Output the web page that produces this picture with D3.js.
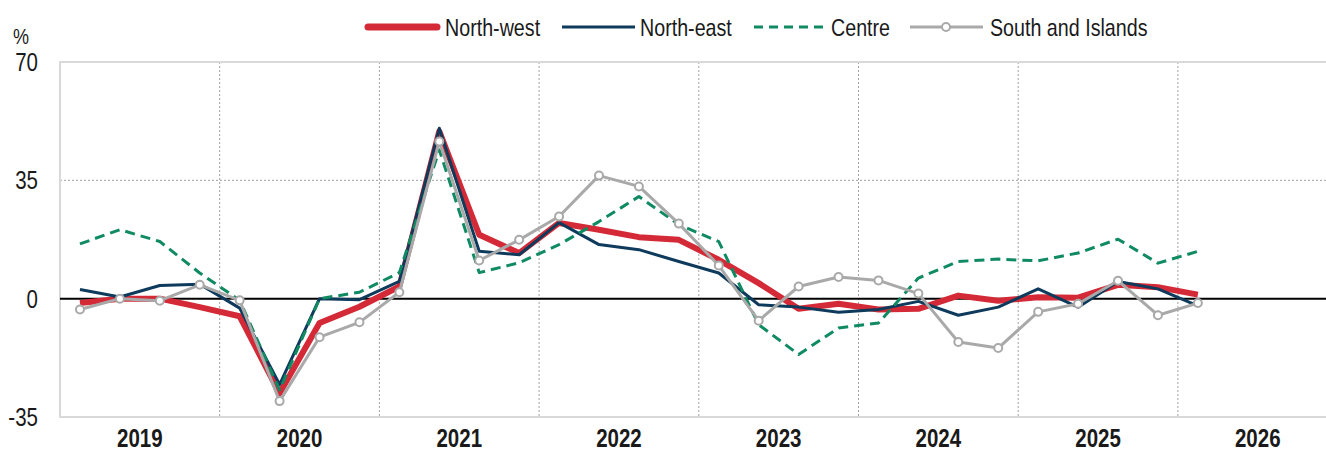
<!DOCTYPE html>
<html>
<head>
<meta charset="utf-8">
<script src="https://cdn.jsdelivr.net/npm/d3@7"></script>
<style>
	body { margin: 0; background: #fff; }
	svg text { font-family: "Liberation Sans Narrow", "Arial Narrow", "Liberation Sans", Arial, sans-serif; fill: #1a1a1a; }
</style>
</head>
<body>
<svg width="1326" height="452"></svg>
<script>
// quarters 2019Q1 .. 2026Q1
const quarters = [
	"2019Q1", "2019Q2", "2019Q3", "2019Q4",
	"2020Q1", "2020Q2", "2020Q3", "2020Q4",
	"2021Q1", "2021Q2", "2021Q3", "2021Q4",
	"2022Q1", "2022Q2", "2022Q3", "2022Q4",
	"2023Q1", "2023Q2", "2023Q3", "2023Q4",
	"2024Q1", "2024Q2", "2024Q3", "2024Q4",
	"2025Q1", "2025Q2", "2025Q3", "2025Q4",
	"2026Q1"
];
const years = [2019, 2020, 2021, 2022, 2023, 2024, 2025, 2026];
const yTicks = [-35, 0, 35, 70];

const northWest = [-1.3, 0, 0, -2.5, -5.2, -28, -7.2, -2.4, 3.6, 49.5, 18.9, 13.5, 22.4, 20.4, 18.2, 17.4,
	11.5, 4.6, -3, -1.5, -3.2, -3, 0.9, -0.6, 0.4, 0.3, 4.1, 3.4, 1.2];
const northEast = [2.7, 0.5, 3.9, 4.3, -2.8, -25.4, 0, -0.3, 5.1, 50.4, 14, 13, 22.5, 16, 14.5, 11,
	7.6, -1.8, -2.5, -4, -3.2, -0.8, -4.9, -2.5, 2.9, -2.5, 5.1, 2.9, -2.1];
const centre = [16.2, 20.4, 16.9, 7.6, -0.5, -27, 0, 1.9, 7.7, 44, 7.7, 10.6, 16, 22.8, 30.2, 21.9,
	16.9, -7.7, -16.5, -8.7, -7.2, 6.1, 11, 11.7, 11.2, 13.5, 17.6, 10.5, 14];
const southIslands = [-3.2, 0, -0.6, 4.1, -0.5, -30.3, -11.4, -7, 1.9, 46.5, 11.3, 17.4, 24.3, 36.4, 33.2, 22.2,
	9.8, -6.5, 3.6, 6.4, 5.4, 1.5, -12.8, -14.6, -3.9, -1.5, 5.3, -4.9, -1.3];

const seriesNames = ["North-west", "North-east", "Centre", "South and Islands"];

const svg = d3.select("svg");
const plotLeft = 60, plotTop = 62, plotBottom = 417;
const yearW = 159.7;
// no narrow font installed, so squeeze the regular one
const narrow = 0.82;

const x = d3.scaleLinear().domain([2019, 2027]).range([plotLeft, plotLeft + 8 * yearW]);
const y = d3.scaleLinear().domain([-35, 70]).range([plotBottom, plotTop]);

const qx = (q) => {
	let yr = +q.slice(0, 4), n = +q.slice(5);
	return x(yr + (n - 0.5) / 4);
};

const place = (px, py) => "translate(" + px + "," + py + ") scale(" + narrow + ",1)";

// grid
const grid = svg.append("g");
grid.selectAll(".vg")
	.data(years.slice(1).concat([2027]))
	.join("line")
	.attr("x1", (d) => x(d))
	.attr("x2", (d) => x(d))
	.attr("y1", plotTop)
	.attr("y2", plotBottom)
	.attr("stroke", "#a0a0a0")
	.attr("stroke-width", 1)
	.attr("stroke-dasharray", "2,2");
grid.append("line")
	.attr("x1", plotLeft).attr("x2", 1326)
	.attr("y1", y(35)).attr("y2", y(35))
	.attr("stroke", "#a0a0a0")
	.attr("stroke-width", 1)
	.attr("stroke-dasharray", "2,2");

// frame
grid.append("path")
	.attr("d", "M1326," + y(70) + "H" + plotLeft + "V" + y(-35) + "H1326")
	.attr("fill", "none")
	.attr("stroke", "#d9d9d9")
	.attr("stroke-width", 2);

// zero line
grid.append("line")
	.attr("x1", plotLeft).attr("x2", 1326)
	.attr("y1", y(0)).attr("y2", y(0))
	.attr("stroke", "#000")
	.attr("stroke-width", 2);

// y axis labels
svg.append("g")
	.selectAll("text")
	.data(yTicks)
	.join("text")
	.attr("transform", (d) => place(38, y(d)))
	.attr("dy", "0.36em")
	.attr("text-anchor", "end")
	.attr("font-size", "25px")
	.text((d) => d);
svg.append("text")
	.attr("transform", place(21, 44))
	.attr("text-anchor", "middle")
	.attr("font-size", "22px")
	.text("%");

// year labels
svg.append("g")
	.selectAll("text")
	.data(years)
	.join("text")
	.attr("transform", (d) => place(x(d + 0.5), 447))
	.attr("text-anchor", "middle")
	.attr("font-size", "25px")
	.attr("font-weight", "bold")
	.text((d) => d);

// lines
const styles = [
	{ data: northWest, color: "#d42a37", width: 6, dash: null },
	{ data: northEast, color: "#0e3a5c", width: 3, dash: null },
	{ data: centre, color: "#0f8a63", width: 3, dash: "10,6" },
	{ data: southIslands, color: "#a9a9a9", width: 3, dash: null }
];
const line = d3.line()
	.x((d, i) => qx(quarters[i]))
	.y((d) => y(d));

const lines = svg.append("g");
styles.forEach((s) => {
	lines.append("path")
		.datum(s.data)
		.attr("d", line)
		.attr("fill", "none")
		.attr("stroke", s.color)
		.attr("stroke-width", s.width)
		.attr("stroke-linejoin", "round")
		.attr("stroke-dasharray", s.dash);
});
lines.append("g")
	.selectAll("circle")
	.data(southIslands)
	.join("circle")
	.attr("cx", (d, i) => qx(quarters[i]))
	.attr("cy", (d) => y(d))
	.attr("r", 4)
	.attr("fill", "#fff")
	.attr("stroke", "#a9a9a9")
	.attr("stroke-width", 2);

// legend
const legendX = [365, 562, 754, 910];
const legendTextX = [445, 640, 831, 990];
const legend = svg.append("g");
styles.forEach((s, i) => {
	let g = legend.append("g").attr("transform", "translate(" + legendX[i] + ",27)");
	g.append("line")
		.attr("x1", i == 0 ? 3 : 0).attr("x2", i == 0 ? 72 : 73)
		.attr("stroke", s.color)
		.attr("stroke-width", i == 0 ? 7 : 3)
		.attr("stroke-linecap", i == 0 ? "round" : "butt")
		.attr("stroke-dasharray", s.dash ? "9,6" : null);
	if (i == 3) {
		g.append("circle")
			.attr("cx", 36).attr("r", 4)
			.attr("fill", "#fff")
			.attr("stroke", s.color)
			.attr("stroke-width", 2);
	}
	legend.append("text")
		.attr("transform", place(legendTextX[i], 27))
		.attr("dy", "0.36em")
		.attr("font-size", "24px")
		.text(seriesNames[i]);
});
</script>
</body>
</html>
